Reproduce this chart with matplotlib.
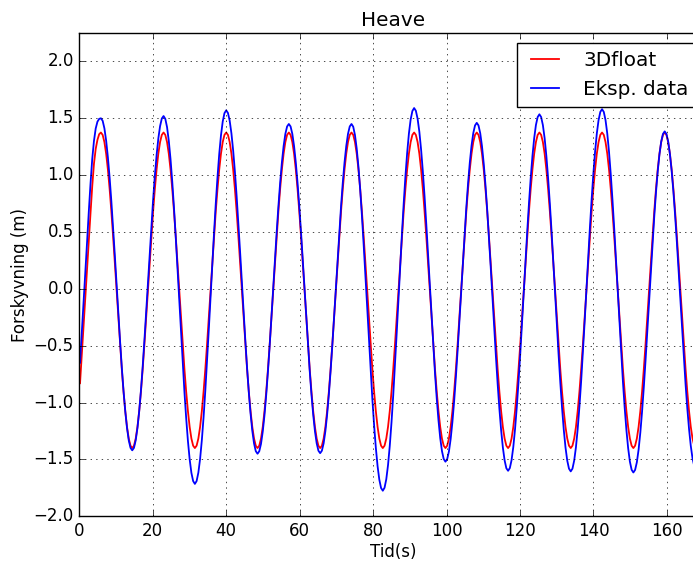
import numpy as np
import matplotlib
matplotlib.use("Agg")
import matplotlib.pyplot as plt

plt.style.use("classic")

# ---- data (heave, m) ----
# samples every 0.4738 s starting at t = 0.2 s
sample_start = 0.2
sample_step = 0.4738

heave_3dfloat = [
    -0.83, -0.58, -0.33, -0.09, 0.16, 0.41, 0.66, 0.90, 1.10, 1.23, 1.31, 1.36,
    # cycle 1
    1.375, 1.354, 1.291, 1.189, 1.050, 0.879, 0.681, 0.462, 0.228, -0.013, -0.253, -0.487, -0.706, -0.904, -1.075, -1.214, -1.316, -1.379,
    -1.400, -1.379, -1.316, -1.214, -1.075, -0.904, -0.706, -0.487, -0.253, -0.013, 0.228, 0.462, 0.681, 0.879, 1.050, 1.189, 1.291, 1.354,
    # cycle 2
    1.375, 1.354, 1.291, 1.189, 1.050, 0.879, 0.681, 0.462, 0.228, -0.013, -0.253, -0.487, -0.706, -0.904, -1.075, -1.214, -1.316, -1.379,
    -1.400, -1.379, -1.316, -1.214, -1.075, -0.904, -0.706, -0.487, -0.253, -0.013, 0.228, 0.462, 0.681, 0.879, 1.050, 1.189, 1.291, 1.354,
    # cycle 3
    1.375, 1.354, 1.291, 1.189, 1.050, 0.879, 0.681, 0.462, 0.228, -0.013, -0.253, -0.487, -0.706, -0.904, -1.075, -1.214, -1.316, -1.379,
    -1.400, -1.379, -1.316, -1.214, -1.075, -0.904, -0.706, -0.487, -0.253, -0.013, 0.228, 0.462, 0.681, 0.879, 1.050, 1.189, 1.291, 1.354,
    # cycle 4
    1.375, 1.354, 1.291, 1.189, 1.050, 0.879, 0.681, 0.462, 0.228, -0.013, -0.253, -0.487, -0.706, -0.904, -1.075, -1.214, -1.316, -1.379,
    -1.400, -1.379, -1.316, -1.214, -1.075, -0.904, -0.706, -0.487, -0.253, -0.013, 0.228, 0.462, 0.681, 0.879, 1.050, 1.189, 1.291, 1.354,
    # cycle 5
    1.375, 1.354, 1.291, 1.189, 1.050, 0.879, 0.681, 0.462, 0.228, -0.013, -0.253, -0.487, -0.706, -0.904, -1.075, -1.214, -1.316, -1.379,
    -1.400, -1.379, -1.316, -1.214, -1.075, -0.904, -0.706, -0.487, -0.253, -0.013, 0.228, 0.462, 0.681, 0.879, 1.050, 1.189, 1.291, 1.354,
    # cycle 6
    1.375, 1.354, 1.291, 1.189, 1.050, 0.879, 0.681, 0.462, 0.228, -0.013, -0.253, -0.487, -0.706, -0.904, -1.075, -1.214, -1.316, -1.379,
    -1.400, -1.379, -1.316, -1.214, -1.075, -0.904, -0.706, -0.487, -0.253, -0.013, 0.228, 0.462, 0.681, 0.879, 1.050, 1.189, 1.291, 1.354,
    # cycle 7
    1.375, 1.354, 1.291, 1.189, 1.050, 0.879, 0.681, 0.462, 0.228, -0.013, -0.253, -0.487, -0.706, -0.904, -1.075, -1.214, -1.316, -1.379,
    -1.400, -1.379, -1.316, -1.214, -1.075, -0.904, -0.706, -0.487, -0.253, -0.013, 0.228, 0.462, 0.681, 0.879, 1.050, 1.189, 1.291, 1.354,
    # cycle 8
    1.375, 1.354, 1.291, 1.189, 1.050, 0.879, 0.681, 0.462, 0.228, -0.013, -0.253, -0.487, -0.706, -0.904, -1.075, -1.214, -1.316, -1.379,
    -1.400, -1.379, -1.316, -1.214, -1.075, -0.904, -0.706, -0.487, -0.253, -0.013, 0.228, 0.462, 0.681, 0.879, 1.050, 1.189, 1.291, 1.354,
    # cycle 9
    1.375, 1.354, 1.291, 1.189, 1.050, 0.879, 0.681, 0.462, 0.228, -0.013, -0.253, -0.487, -0.706, -0.904, -1.075, -1.214, -1.316, -1.379,
    -1.400, -1.379, -1.316, -1.214, -1.075, -0.904, -0.706, -0.487, -0.253, -0.013, 0.228, 0.462, 0.681, 0.879, 1.050, 1.189, 1.291, 1.354,
    # cycle 10
    1.375, 1.354, 1.291, 1.189, 1.050, 0.879, 0.681, 0.462, 0.228, -0.013, -0.253, -0.487, -0.706, -0.904, -1.075, -1.214, -1.316, -1.379,
    -1.400, -1.379, -1.316, -1.214, -1.075, -0.904, -0.706, -0.487,
]

heave_eksp = [
    -0.65, -0.39, -0.13, 0.13, 0.40, 0.67, 0.92, 1.14, 1.30, 1.41, 1.47, 1.495,
    # cycle 1
    1.500, 1.478, 1.412, 1.304, 1.158, 0.979, 0.770, 0.539, 0.294, 0.040, -0.214, -0.459, -0.690, -0.899, -1.078, -1.224, -1.332, -1.398,
    -1.420, -1.398, -1.331, -1.223, -1.076, -0.895, -0.685, -0.453, -0.205, 0.050, 0.305, 0.553, 0.785, 0.995, 1.176, 1.323, 1.431, 1.498,
    # cycle 2
    1.520, 1.495, 1.423, 1.303, 1.142, 0.942, 0.711, 0.456, 0.183, -0.098, -0.378, -0.651, -0.906, -1.137, -1.337, -1.498, -1.618, -1.690,
    -1.715, -1.690, -1.616, -1.495, -1.331, -1.128, -0.894, -0.634, -0.358, -0.073, 0.213, 0.489, 0.749, 0.983, 1.186, 1.350, 1.471, 1.545,
    # cycle 3
    1.570, 1.547, 1.479, 1.368, 1.217, 1.031, 0.815, 0.576, 0.322, 0.060, -0.202, -0.456, -0.695, -0.911, -1.097, -1.248, -1.359, -1.427,
    -1.450, -1.428, -1.363, -1.256, -1.111, -0.932, -0.725, -0.496, -0.252, 0.000, 0.252, 0.496, 0.725, 0.932, 1.111, 1.256, 1.363, 1.428,
    # cycle 4
    1.450, 1.428, 1.363, 1.256, 1.111, 0.933, 0.726, 0.498, 0.254, 0.003, -0.249, -0.493, -0.721, -0.928, -1.106, -1.251, -1.358, -1.423,
    -1.445, -1.423, -1.358, -1.251, -1.106, -0.928, -0.721, -0.493, -0.249, 0.003, 0.254, 0.498, 0.726, 0.933, 1.111, 1.256, 1.363, 1.428,
    # cycle 5
    1.450, 1.426, 1.353, 1.234, 1.073, 0.874, 0.644, 0.389, 0.117, -0.163, -0.442, -0.714, -0.969, -1.199, -1.398, -1.559, -1.678, -1.751,
    -1.775, -1.749, -1.674, -1.550, -1.381, -1.174, -0.934, -0.668, -0.385, -0.093, 0.200, 0.483, 0.749, 0.989, 1.196, 1.365, 1.489, 1.564,
    # cycle 6
    1.590, 1.566, 1.496, 1.382, 1.226, 1.035, 0.813, 0.567, 0.305, 0.035, -0.235, -0.497, -0.743, -0.965, -1.156, -1.312, -1.426, -1.496,
    -1.520, -1.497, -1.430, -1.320, -1.171, -0.988, -0.775, -0.540, -0.289, -0.030, 0.229, 0.480, 0.715, 0.928, 1.111, 1.260, 1.370, 1.437,
    # cycle 7
    1.460, 1.437, 1.368, 1.255, 1.102, 0.914, 0.695, 0.453, 0.196, -0.070, -0.336, -0.593, -0.835, -1.054, -1.242, -1.395, -1.508, -1.577,
    -1.600, -1.576, -1.506, -1.390, -1.233, -1.040, -0.816, -0.569, -0.305, -0.033, 0.240, 0.504, 0.751, 0.975, 1.168, 1.325, 1.441, 1.511,
    # cycle 8
    1.535, 1.511, 1.440, 1.325, 1.168, 0.974, 0.750, 0.502, 0.238, -0.035, -0.308, -0.572, -0.820, -1.044, -1.238, -1.395, -1.510, -1.581,
    -1.605, -1.581, -1.509, -1.392, -1.232, -1.036, -0.809, -0.557, -0.289, -0.013, 0.264, 0.532, 0.784, 1.011, 1.207, 1.367, 1.484, 1.556,
    # cycle 9
    1.580, 1.556, 1.484, 1.366, 1.206, 1.009, 0.781, 0.529, 0.260, -0.018, -0.295, -0.564, -0.816, -1.044, -1.241, -1.401, -1.519, -1.591,
    -1.615, -1.592, -1.525, -1.414, -1.264, -1.079, -0.865, -0.628, -0.375, -0.115, 0.145, 0.398, 0.635, 0.849, 1.034, 1.184, 1.295, 1.362,
    # cycle 10
    1.385, 1.363, 1.296, 1.186, 1.038, 0.856, 0.644, 0.410, 0.160, -0.098, -0.355, -0.605, -0.839, -1.051, -1.233, -1.381, -1.491, -1.558,
    -1.580, -1.557, -1.489, -1.377, -1.226, -1.039, -0.823, -0.583,
]

series_labels = ["3Dfloat", "Eksp. data"]
title = "Heave"
xlabel = "Tid(s)"
ylabel = "Forskyvning (m)"

t = sample_start + sample_step * np.arange(len(heave_3dfloat))

# ---- figure ----
W, H = 693, 561
fig = plt.figure(figsize=(W / 100, H / 100), dpi=100, facecolor="white")
left, right, top, bottom = 79.3, 707.3, 33.0, 516.3
ax = fig.add_axes([left / W, 1 - bottom / H, (right - left) / W, (bottom - top) / H])

ax.plot(t, heave_3dfloat, color="r", lw=1.3, label=series_labels[0])
ax.plot(t, heave_eksp, color="b", lw=1.3, label=series_labels[1])

ax.set_xlim(0, 171)
ax.set_ylim(-2.0, 2.25)
ax.set_xticks(np.arange(0, 171, 20))
ax.set_yticks(np.arange(-2.0, 2.01, 0.5))
ax.grid(True)

ax.set_title(title)
ax.set_xlabel(xlabel, labelpad=2.0)
ax.set_ylabel(ylabel, labelpad=3.0)

ax.legend(loc="upper left", bbox_to_anchor=(517.3 / W, 1 - 43.3 / H),
          bbox_transform=fig.transFigure, borderaxespad=0, handletextpad=0.9)

fig.savefig("out.png", dpi=100, facecolor="white")
